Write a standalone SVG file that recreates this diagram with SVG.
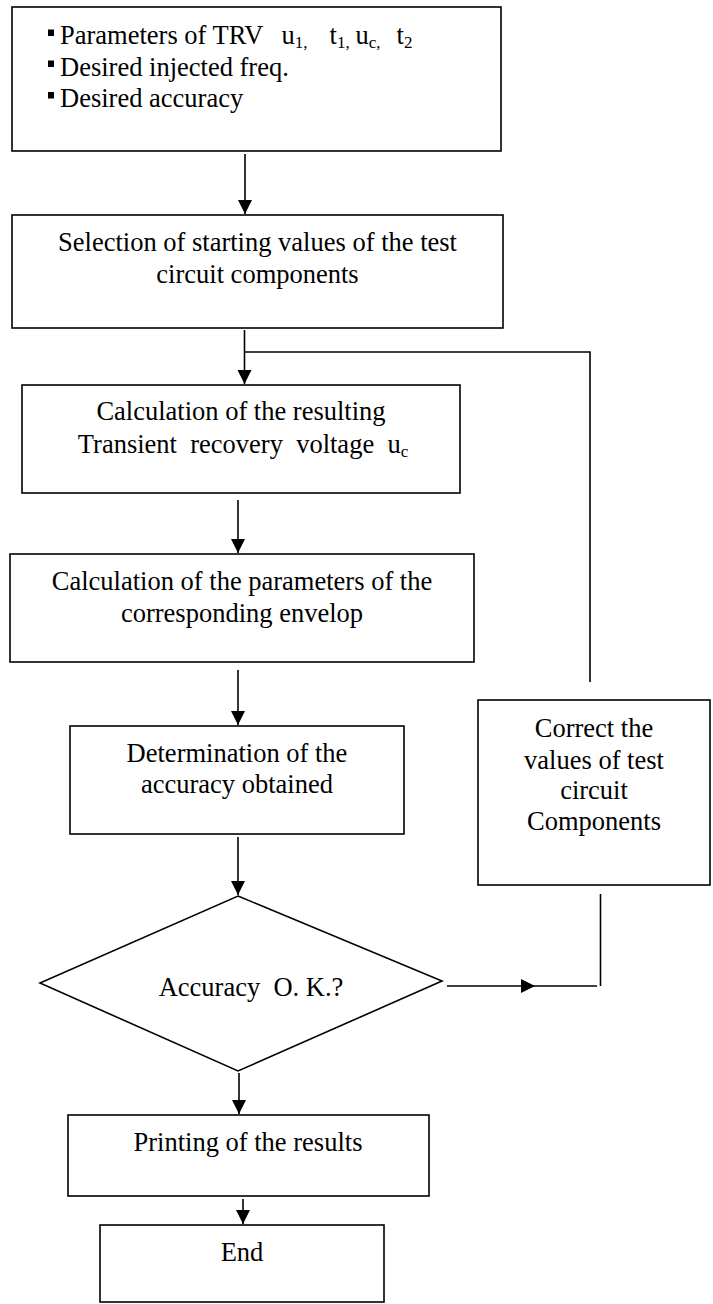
<svg xmlns="http://www.w3.org/2000/svg" width="713" height="1304" viewBox="0 0 713 1304">
<style>
.box{fill:#fff;stroke:#000;stroke-width:1.6}
.t{font-family:"Liberation Serif","Times New Roman",serif;font-size:26.5px;fill:#000;white-space:pre}
.m{text-anchor:middle}
.sub{font-size:17px}
.c{fill:none;stroke:#000;stroke-width:1.6}
</style>
<defs>
<marker id="ah" markerUnits="userSpaceOnUse" markerWidth="16" markerHeight="16" refX="14" refY="7" orient="auto" viewBox="0 0 16 16">
<path d="M0,0 L14,7 L0,14 z" fill="#000"/>
</marker>
</defs>
<rect width="713" height="1304" fill="#fff"/>
<g id="connectors">
<line class="c" x1="245" y1="154" x2="245" y2="214" marker-end="url(#ah)"/>
<line class="c" x1="244.5" y1="330" x2="244.5" y2="384" marker-end="url(#ah)"/>
<polyline class="c" points="244.5,352 590,352 590,682"/>
<line class="c" x1="238" y1="500" x2="238" y2="553" marker-end="url(#ah)"/>
<line class="c" x1="238" y1="670" x2="238" y2="725" marker-end="url(#ah)"/>
<line class="c" x1="238" y1="837" x2="238" y2="895" marker-end="url(#ah)"/>
<line class="c" x1="239" y1="1073" x2="239" y2="1114" marker-end="url(#ah)"/>
<line class="c" x1="243" y1="1199" x2="243" y2="1224" marker-end="url(#ah)"/>
<line class="c" x1="447" y1="986" x2="535" y2="986" marker-end="url(#ah)"/>
<line class="c" x1="535" y1="986" x2="597" y2="986"/>
<line class="c" x1="600.5" y1="894" x2="600.5" y2="986"/>
</g>
<g id="inputs">
<rect class="box" x="12" y="7" width="489" height="144"/>
<rect x="48" y="29.5" width="6" height="6.5" fill="#000"/>
<rect x="48" y="60.5" width="6" height="6.5" fill="#000"/>
<rect x="48" y="92" width="6" height="6.5" fill="#000"/>
<text class="t" x="60" y="43.5">Parameters of TRV</text>
<text class="t" x="281.5" y="43.5">u<tspan class="sub" dy="4">1,</tspan></text>
<text class="t" x="329.5" y="43.5">t<tspan class="sub" dy="4">1,</tspan></text>
<text class="t" x="355.5" y="43.5">u<tspan class="sub" dy="4">c,</tspan></text>
<text class="t" x="396.5" y="43.5">t<tspan class="sub" dy="4">2</tspan></text>
<text class="t" x="60" y="75.5">Desired injected freq.</text>
<text class="t" x="60" y="106.5">Desired accuracy</text>
</g>
<g id="selection">
<rect class="box" x="12" y="215" width="491" height="113"/>
<text class="t m" x="257.5" y="251">Selection of starting values of the test</text>
<text class="t m" x="257.5" y="283">circuit components</text>
</g>
<g id="calc-trv">
<rect class="box" x="22" y="385" width="438" height="108"/>
<text class="t m" x="241" y="420">Calculation of the resulting</text>
<text class="t m" x="243" y="453">Transient  recovery  voltage  u<tspan class="sub" dy="4">c</tspan></text>
</g>
<g id="calc-envelop">
<rect class="box" x="10" y="554" width="464" height="108"/>
<text class="t m" x="242" y="590">Calculation of the parameters of the</text>
<text class="t m" x="242" y="621.5">corresponding envelop</text>
</g>
<g id="determination">
<rect class="box" x="70" y="726" width="334" height="108"/>
<text class="t m" x="237" y="761.5">Determination of the</text>
<text class="t m" x="237" y="793">accuracy obtained</text>
</g>
<g id="decision">
<polygon class="box" points="238,896 442,981 238,1071 40,983"/>
<text class="t m" x="251" y="995.5">Accuracy  O. K.?</text>
</g>
<g id="correct">
<rect class="box" x="478" y="700" width="232" height="185"/>
<text class="t m" x="594" y="736.5">Correct the</text>
<text class="t m" x="594" y="769">values of test</text>
<text class="t m" x="594" y="799">circuit</text>
<text class="t m" x="594" y="830">Components</text>
</g>
<g id="printing">
<rect class="box" x="68" y="1115" width="361" height="81"/>
<text class="t m" x="248" y="1150.5">Printing of the results</text>
</g>
<g id="end">
<rect class="box" x="100" y="1225" width="284" height="77"/>
<text class="t m" x="242" y="1260.5">End</text>
</g>
</svg>
